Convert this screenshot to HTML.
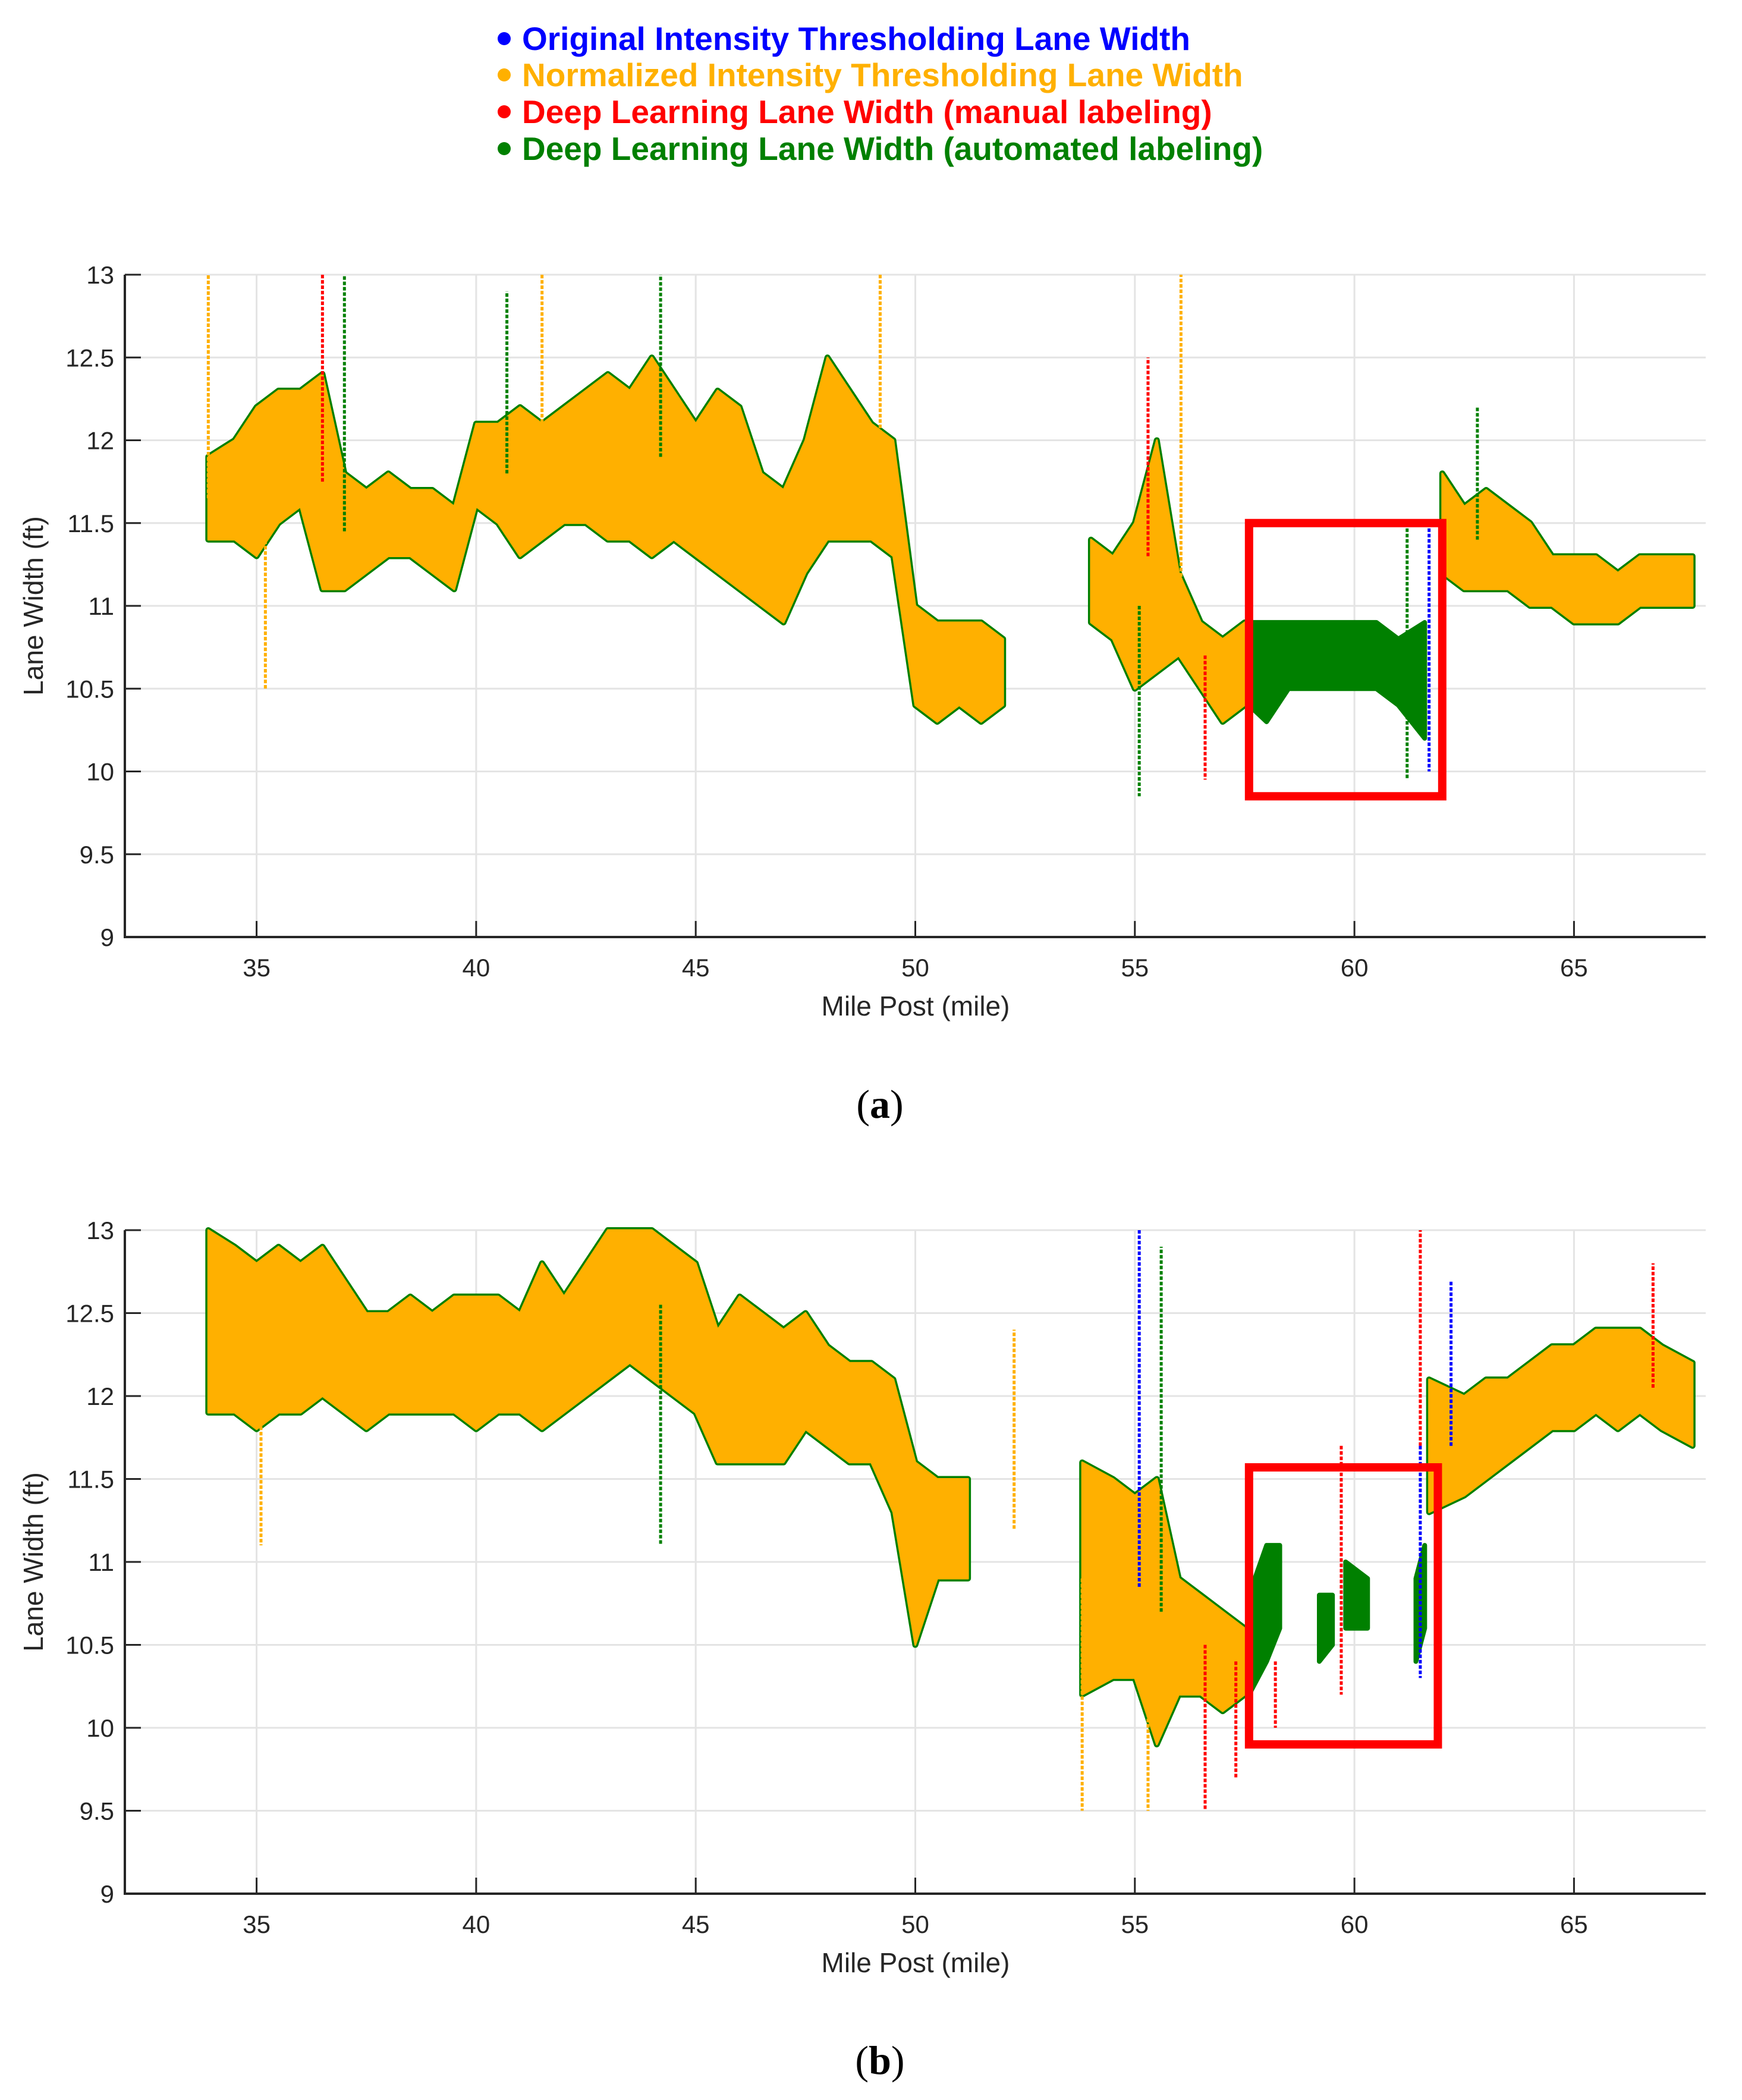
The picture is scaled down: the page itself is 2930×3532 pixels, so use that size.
<!DOCTYPE html>
<html><head><meta charset="utf-8"><style>
html,body{margin:0;padding:0;background:#fff}
svg{display:block}
text{font-family:"Liberation Sans",Arial,sans-serif}
</style></head><body>
<svg id="fig" width="2930" height="3532" viewBox="0 0 2930 3532" xmlns="http://www.w3.org/2000/svg">
<g font-size="55" font-weight="bold" letter-spacing="0">
 <g><circle cx="848" cy="65" r="11" fill="#0000ff"/><text x="878" y="84" fill="#0000ff">Original Intensity Thresholding Lane Width</text></g>
 <g><circle cx="848" cy="126" r="11" fill="#ffb000"/><text x="878" y="145" fill="#ffb000">Normalized Intensity Thresholding Lane Width</text></g>
 <g><circle cx="848" cy="188" r="11" fill="#ff0000"/><text x="878" y="207" fill="#ff0000">Deep Learning Lane Width (manual labeling)</text></g>
 <g><circle cx="848" cy="250" r="11" fill="#008000"/><text x="878" y="269" fill="#008000">Deep Learning Lane Width (automated labeling)</text></g>
</g>
<g id="plotA"></g>
<g id="plotB"></g>
<text x="1480" y="1880" text-anchor="middle" font-size="68" style="font-family:'Liberation Serif',serif">(<tspan font-weight="bold">a</tspan>)</text>
<text x="1480" y="3488" text-anchor="middle" font-size="68" style="font-family:'Liberation Serif',serif">(<tspan font-weight="bold">b</tspan>)</text>
</svg>
<script>
const xTicks=[35,40,45,50,55,60,65];
const yTicks=[9,9.5,10,10.5,11,11.5,12,12.5,13];
const yTickLabels=["9","9.5","10","10.5","11","11.5","12","12.5","13"];
const milesA=[33.9,34.5,35,35.5,36,36.5,37,37.5,38,38.5,39,39.5,40,40.5,41,41.5,42,42.5,43,43.5,44,44.5,45,45.5,46,46.5,47,47.5,48,48.5,49,49.5,50,50.5,51,51.5,52,52.5,53,53.5,54,54.5,55,55.5,56,56.5,57,57.5,58,58.5,59,59.5,60,60.5,61,61.5,62,62.5,63,63.5,64,64.5,65,65.5,66,66.5,67,67.7];
const orangeLoA=[11.4,11.4,11.3,11.5,11.6,11.1,11.1,11.2,11.3,11.3,11.2,11.1,11.6,11.5,11.3,11.4,11.5,11.5,11.4,11.4,11.3,11.4,11.3,11.2,11.1,11.0,10.9,11.2,11.4,11.4,11.4,11.3,10.4,10.3,10.4,10.3,10.4,null,null,null,10.9,10.8,10.5,10.6,10.7,10.5,10.3,10.4,null,null,null,null,null,null,null,null,11.2,11.1,11.1,11.1,11.0,11.0,10.9,10.9,10.9,11.0,11.0,11.0];
const orangeHiA=[11.9,12.0,12.2,12.3,12.3,12.4,11.8,11.7,11.8,11.7,11.7,11.6,12.1,12.1,12.2,12.1,12.2,12.3,12.4,12.3,12.5,12.3,12.1,12.3,12.2,11.8,11.7,12.0,12.5,12.3,12.1,12.0,11.0,10.9,10.9,10.9,10.8,null,null,null,11.4,11.3,11.5,12.0,11.2,10.9,10.8,10.9,null,null,null,null,null,null,null,null,11.8,11.6,11.7,11.6,11.5,11.3,11.3,11.3,11.2,11.3,11.3,11.3];
const greenMilesA=[57.6,58,58.5,59,59.5,60,60.5,61,61.6];
const greenLoA=[10.4,10.3,10.5,10.5,10.5,10.5,10.5,10.4,10.2];
const greenHiA=[10.9,10.9,10.9,10.9,10.9,10.9,10.9,10.8,10.9];
const spikeMilesA=[33.9,35.2,36.5,37.0,40.7,41.5,44.2,49.2,56.05,55.1,56.6,61.2,55.3,61.7,62.8];
const spikeValsA=[13,10.5,13,13,12.9,13,13,13,13,9.85,9.95,9.95,12.5,10.0,12.2];
const spikeColorsA=["#ffb000","#ffb000","#ff0000","#008000","#008000","#ffb000","#008000","#ffb000","#ffb000","#008000","#ff0000","#008000","#ff0000","#0000ff","#008000"];
const milesB=[33.9,34.5,35,35.5,36,36.5,37,37.5,38,38.5,39,39.5,40,40.5,41,41.5,42,42.5,43,43.5,44,44.5,45,45.5,46,46.5,47,47.5,48,48.5,49,49.5,50,50.5,51.2,51.5,52,52.5,53,53.5,53.8,54.5,55,55.5,56,56.5,57,57.5,58,58.5,59,59.5,60,60.5,61,61.5,61.7,62.5,63,63.5,64,64.5,65,65.5,66,66.5,67,67.7];
const orangeLoB=[11.9,11.9,11.8,11.9,11.9,12.0,11.9,11.8,11.9,11.9,11.9,11.9,11.8,11.9,11.9,11.8,11.9,12.0,12.1,12.2,12.1,12.0,11.9,11.6,11.6,11.6,11.6,11.8,11.7,11.6,11.6,11.3,10.5,10.9,10.9,null,null,null,null,null,10.2,10.3,10.3,9.9,10.2,10.2,10.1,10.2,null,null,null,null,null,null,null,null,11.3,11.4,11.5,11.6,11.7,11.8,11.8,11.9,11.8,11.9,11.8,11.7];
const orangeHiB=[13,12.9,12.8,12.9,12.8,12.9,12.7,12.5,12.5,12.6,12.5,12.6,12.6,12.6,12.5,12.8,12.6,12.8,13.0,13.0,13.0,12.9,12.8,12.4,12.6,12.5,12.4,12.5,12.3,12.2,12.2,12.1,11.6,11.5,11.5,null,null,null,null,null,11.6,11.5,11.4,11.5,10.9,10.8,10.7,10.6,null,null,null,null,null,null,null,null,12.1,12.0,12.1,12.1,12.2,12.3,12.3,12.4,12.4,12.4,12.3,12.2];
const greenMilesB=[57.6,58.0,58.3,null,59.2,59.5,null,59.8,60.3,null,61.4,61.6];
const greenLoB=[10.2,10.4,10.6,null,10.4,10.5,null,10.6,10.6,null,10.4,10.6];
const greenHiB=[10.8,11.1,11.1,null,10.8,10.8,null,11.0,10.9,null,10.9,11.1];
const spikeMilesB=[55.1,55.6,53.8,55.3,56.6,61.5,44.2,35.1,62.2,66.8,52.25,57.3,58.2,59.7,61.5];
const spikeValsB=[13,12.9,9.5,9.5,9.5,13,11.1,11.1,12.7,12.8,12.4,9.7,10.0,10.2,10.3];
const spikeColorsB=["#0000ff","#008000","#ffb000","#ffb000","#ff0000","#ff0000","#008000","#ffb000","#0000ff","#ff0000","#ffb000","#ff0000","#ff0000","#ff0000","#0000ff"];

const NS="http://www.w3.org/2000/svg";
function mk(tag,attrs,parent){const e=document.createElementNS(NS,tag);for(const k in attrs)e.setAttribute(k,attrs[k]);parent.appendChild(e);return e;}

function drawPlot(g,top,bottom,miles,lo,hi,gm,glo,ghi,sm,sv,sc,box){
  const L=210,R=2869,xmin=32,xmax=68,ymin=9,ymax=13;
  const X=v=>L+(v-xmin)/(xmax-xmin)*(R-L);
  const Y=v=>bottom-(v-ymin)/(ymax-ymin)*(bottom-top);
  xTicks.forEach(t=>{const l=mk('line',{x1:X(t),x2:X(t),y1:top,y2:bottom,stroke:'#e4e4e4','stroke-width':3},g);
    
    });
  yTicks.forEach(t=>{const l=mk('line',{x1:L,x2:R,y1:Y(t),y2:Y(t),stroke:'#e4e4e4','stroke-width':3},g);
    
    });
  function band(ms,los,his,fill,stroke,sw,name){
    let seg=[];
    const flush=()=>{ if(seg.length){
      let d='M'+seg.map(p=>X(p[0])+','+Y(p[2])).join(' L')+' L'+seg.slice().reverse().map(p=>X(p[0])+','+Y(p[1])).join(' L')+'Z';
      const p=mk('path',{d:d,fill:fill,stroke:stroke,'stroke-width':sw,'stroke-linejoin':'round'},g);
      
      
      seg=[];}};
    for(let i=0;i<ms.length;i++){ if(ms[i]===null||los[i]===null){flush();continue;} seg.push([ms[i],los[i],his[i]]); }
    flush();
  }
  band(miles,lo,hi,'#008000','#008000',10,'green-series-band');
  band(gm,glo,ghi,'#008000','#008000',8,'green-series-band');
  band(miles,lo,hi,'#ffb000','#ffb000',3,'orange-series-band');
  sm.forEach((m,i)=>{
    let idx=0,best=1e9; miles.forEach((mm,j)=>{if(lo[j]!==null&&Math.abs(mm-m)<best){best=Math.abs(mm-m);idx=j;}});
    const base=(lo[idx]+hi[idx])/2;
    const l=mk('line',{x1:X(m),x2:X(m),y1:Y(base),y2:Y(sv[i]),stroke:sc[i],'stroke-width':5,'stroke-dasharray':'6 3'},g);
    
    
  });
  const ax=mk('path',{d:`M${L},${top} L${L},${bottom} L${R},${bottom}`,fill:'none',stroke:'#262626','stroke-width':4},g);
  
  
  yTicks.forEach((t,i)=>{
    const tk=mk('line',{x1:L,x2:L+27,y1:Y(t),y2:Y(t),stroke:'#262626','stroke-width':3},g);
    
    
    const tx=mk('text',{x:L-18,y:Y(t)+15,'text-anchor':'end','font-size':42,fill:'#262626'},g);
    tx.textContent=yTickLabels[i];
    
    
  });
  xTicks.forEach(t=>{
    const tk=mk('line',{x1:X(t),x2:X(t),y1:bottom,y2:bottom-27,stroke:'#262626','stroke-width':3},g);
    
    
    const tx=mk('text',{x:X(t),y:bottom+66,'text-anchor':'middle','font-size':42,fill:'#262626'},g);
    tx.textContent=String(t);
    
    
  });
  const xt=mk('text',{x:1540,y:bottom+132,'text-anchor':'middle','font-size':46,fill:'#262626'},g);
  xt.textContent='Mile Post (mile)';
  
  
  const cy=(top+bottom)/2;
  const yt=mk('text',{x:0,y:0,transform:`translate(72,${cy}) rotate(-90)`,'text-anchor':'middle','font-size':46,fill:'#262626'},g);
  yt.textContent='Lane Width (ft)';
  
  
  const bx=mk('rect',{x:X(box[0]),y:Y(box[3]),width:X(box[1])-X(box[0]),height:Y(box[2])-Y(box[3]),fill:'none',stroke:'#ff0000','stroke-width':14},g);
  
  
}
drawPlot(document.getElementById('plotA'),462,1576,milesA,orangeLoA,orangeHiA,greenMilesA,greenLoA,greenHiA,spikeMilesA,spikeValsA,spikeColorsA,[57.6,62.0,9.85,11.5]);
drawPlot(document.getElementById('plotB'),2069,3185,milesB,orangeLoB,orangeHiB,greenMilesB,greenLoB,greenHiB,spikeMilesB,spikeValsB,spikeColorsB,[57.6,61.9,9.9,11.57]);
</script>
</body></html>
